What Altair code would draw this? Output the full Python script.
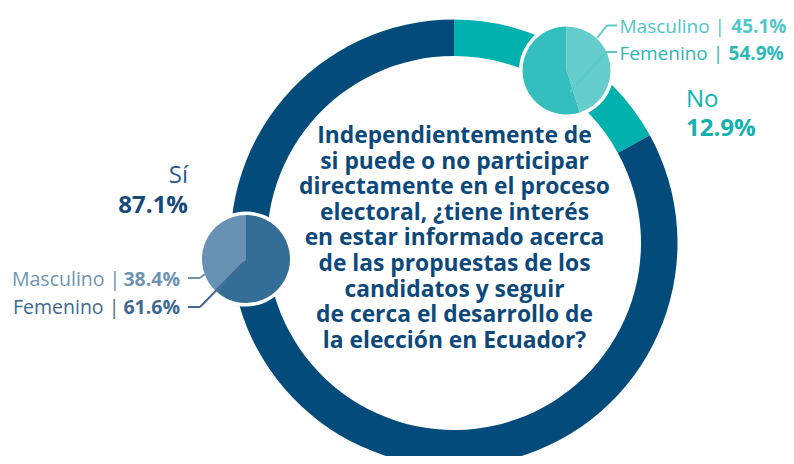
import altair as alt
import pandas as pd

# ---------------- data ----------------
ring_categories = ["No", "Sí"]
ring_label_pct = ["12.9%", "87.1%"]
ring_arc_share = [17.0, 83.0]          # arc extent as drawn in the reference
ring_order = [0, 1]

no_sex = ["Masculino", "Femenino"]
no_sex_pct = [45.1, 54.9]
no_sex_order = [0, 1]

si_sex = ["Masculino", "Femenino"]
si_sex_pct = [38.4, 61.6]
si_sex_order = [1, 0]

question_lines = [
    "Independientemente de",
    "si puede o no participar",
    "directamente en el proceso",
    "electoral, ¿tiene interés",
    "en estar informado acerca",
    "de las propuestas de los",
    "candidatos y seguir",
    "de cerca el desarrollo de",
    "la elección en Ecuador?",
]

FONT = "Open Sans"

# ---------------- colours ----------------
color_domain = ["ring_No", "ring_Sí", "no_Masculino", "no_Femenino", "si_Masculino", "si_Femenino"]
color_range = ["#00B1AE", "#034B7B", "#66CDCD", "#35BEBE", "#6892B3", "#346E97"]
cscale = alt.Scale(domain=color_domain, range=color_range)

# ---------------- geometry ----------------
CX, CY = 446, 235
R_OUT, R_IN = 223.5, 187
NO_CX, NO_CY = 558.5, 62.5
SI_CX, SI_CY = 238, 251
PIE_R = 44

ring_df = pd.DataFrame({"key": ["ring_" + c for c in ring_categories],
                        "share": ring_arc_share, "ord": ring_order})
no_df = pd.DataFrame({"key": ["no_" + s for s in no_sex], "share": no_sex_pct, "ord": no_sex_order})
si_df = pd.DataFrame({"key": ["si_" + s for s in si_sex], "share": si_sex_pct, "ord": si_sex_order})


def arcs(df, cx, cy, outer, inner=0):
    return alt.Chart(df).mark_arc(outerRadius=outer, innerRadius=inner).encode(
        theta=alt.Theta("share:Q", stack=True),
        order=alt.Order("ord:Q"),
        color=alt.Color("key:N", scale=cscale, legend=None),
        x=alt.value(cx), y=alt.value(cy),
    )


def disc(cx, cy, r):
    return alt.Chart(pd.DataFrame({"k": [0]})).mark_arc(outerRadius=r, color="white").encode(
        theta=alt.value(0), theta2=alt.value(6.2832), x=alt.value(cx), y=alt.value(cy)
    )


def txt(s, x, y, size, weight, color, align="left"):
    return alt.Chart(pd.DataFrame({"t": [s]})).mark_text(
        font=FONT, fontSize=size, fontWeight=weight, color=color, align=align, baseline="alphabetic"
    ).encode(text="t:N", x=alt.value(x), y=alt.value(y))


def seg(x1, y1, x2, y2, color):
    return alt.Chart(pd.DataFrame({"k": [0]})).mark_rule(strokeWidth=2, color=color).encode(
        x=alt.value(x1), y=alt.value(y1), x2=alt.value(x2), y2=alt.value(y2)
    )


layers = [
    arcs(ring_df, CX, CY, R_OUT, R_IN),
    disc(NO_CX, NO_CY, PIE_R + 3.5),
    arcs(no_df, NO_CX, NO_CY, PIE_R),
    disc(SI_CX, SI_CY, PIE_R + 3.5),
    arcs(si_df, SI_CX, SI_CY, PIE_R),
]

# question in the centre
layers.append(
    alt.Chart(pd.DataFrame({"t": ["\n".join(question_lines)]})).mark_text(
        font=FONT, fontSize=22.8, fontWeight="bold", color="#0C497A", align="center",
        baseline="alphabetic", lineBreak="\n", lineHeight=25.6
    ).encode(text="t:N", x=alt.value(CX + 0.5), y=alt.value(135))
)

# "No" side
TEAL_M, TEAL_F, TEAL = "#4FC7C7", "#2CB9B8", "#14B1AF"
layers += [
    txt(no_sex[0] + " |", 611.5, 25, 19, "normal", TEAL_M),
    txt(f"{no_sex_pct[0]}%", 723.3, 25, 19, "bold", TEAL_M),
    txt(no_sex[1] + " |", 611.5, 52, 19, "normal", TEAL_F),
    txt(f"{no_sex_pct[1]}%", 720.6, 52, 19, "bold", TEAL_F),
    txt(ring_categories[0], 678, 99, 24, "normal", TEAL),
    txt(ring_label_pct[0], 678, 128, 24, "bold", TEAL),
    seg(599, 17.5, 609, 17.5, "#5CCACA"), seg(599, 17.5, 589, 30, "#5CCACA"),
    seg(598, 44, 609, 44, "#5CCACA"), seg(598, 44, 562, 84, "#5CCACA"),
]

# "Sí" side
SI_M, SI_F = "#6E94B4", "#3E6A91"
layers += [
    txt(ring_categories[1], 180, 175, 24, "normal", "#2D5B88", align="right"),
    txt(ring_label_pct[1], 180, 204.5, 24, "bold", "#164A7A", align="right"),
    txt(si_sex[0] + " |", 4, 278, 19.5, "normal", SI_M),
    txt(f"{si_sex_pct[0]}%", 172, 278, 19.5, "bold", SI_M, align="right"),
    txt(si_sex[1] + " |", 5, 306, 19.5, "normal", SI_F),
    txt(f"{si_sex_pct[1]}%", 172, 306, 19.5, "bold", SI_F, align="right"),
    seg(180, 270, 192, 270, SI_M), seg(192, 270, 197, 266, SI_M),
    seg(180, 299, 192, 299, SI_F), seg(192, 299, 236, 254, SI_F),
]

chart = alt.layer(*layers).resolve_scale(theta="independent").properties(
    width=778, height=448, autosize=alt.AutoSizeParams(type="none"), padding=0, background="white"
).configure_view(stroke=None)

chart.save("out.html", embed_options={"renderer": "svg", "actions": False})
